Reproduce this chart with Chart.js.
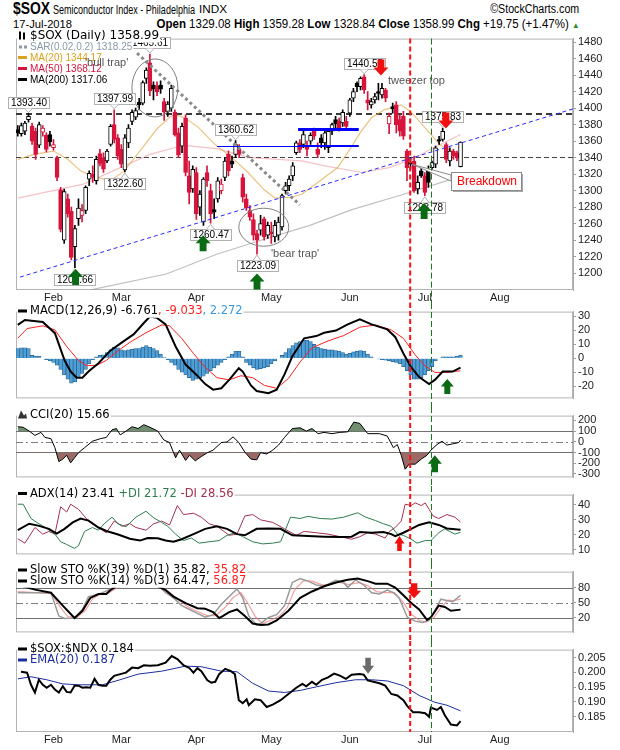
<!DOCTYPE html>
<html>
<head>
<meta charset="utf-8">
<script src="https://cdn.jsdelivr.net/npm/chart.js@4.4.1/dist/chart.umd.min.js"></script>
<style>
  body { margin: 0; width: 620px; height: 750px; background: #fff; position: relative; overflow: hidden; }
  canvas { position: absolute; left: 0; }
  .t { position: absolute; white-space: nowrap; font-family: "Liberation Sans", Arial, sans-serif; color: #000; line-height: 1; }
</style>
</head>
<body>
<div class="t" id="h1" style="left:13px;top:1px;font-size:16px;font-weight:bold;transform-origin:left center;">$SOX</div>
<div class="t" id="h2" style="left:53px;top:4px;font-size:12px;transform-origin:left center;">Semiconductor Index - Philadelphia</div>
<div class="t" id="h3" style="left:199px;top:5px;font-size:10px;transform-origin:left center;">INDX</div>
<div class="t" id="h4" style="right:41px;top:3px;font-size:12px;transform-origin:right center;">©StockCharts.com</div>
<div class="t" id="h5" style="left:13px;top:19px;font-size:11px;transform-origin:left center;">17-Jul-2018</div>
<div class="t" id="h6" style="right:40px;top:18px;font-size:12px;transform-origin:right center;"><b>Open</b> 1329.08 <b>High</b> 1359.28 <b>Low</b> 1328.84 <b>Close</b> 1358.99 <b>Chg</b> +19.75 (+1.47%) <span style="color:#2a8a2a;font-size:8px">▲</span></div>
<script>
// header pieces squeezed to the widths they take in the reference
[['h1', 37], ['h2', 142], ['h3', 28], ['h4', 89], ['h5', 59], ['h6', 423]].forEach(([id, w]) => {
  const el = document.getElementById(id);
  el.style.transform = 'scaleX(' + (w / el.getBoundingClientRect().width) + ')';
});

// x axis: trading-day index, 0 = 18-Jan-2018, 124 = 17-Jul-2018
const monthTickIdx = [10, 29, 50, 71, 93, 114, 135];
const monthLabels = ['Feb', 'Mar', 'Apr', 'May', 'Jun', 'Jul', 'Aug'];

const opens = [1374,1369,1372,1386,1378,1372,1355,1371,1367,1368,1352,1340,1301,1240,1290,1275,1232,1266,1270,1276,
  1314,1320,1312,1345,1340,1336,1356,1380,1364,1350,1325,1358,1384,1389,1407,1406,1436,1455,1428,1427,
  1428,1408,1396,1400,1395,1370,1354,1388,1318,1302,1322,1280,1262,1322,1300,1277,1290,1300,1316,1344,
  1336,1344,1350,1316,1290,1276,1265,1248,1252,1266,1246,1250,1244,1246,1256,1300,1306,1318,1346,1358,
  1356,1354,1360,1372,1350,1364,1358,1352,1372,1386,1384,1382,1384,1394,1412,1430,1426,1438,1410,1404,
  1410,1420,1416,1422,1381,1402,1404,1386,1390,1348,1334,1336,1302,1324,1318,1326,1328,1332,1362,1362,
  1356,1336,1348,1346,1329.08];
const highs = [1379,1382,1384,1393.4,1382,1376,1383,1379,1370,1372,1362,1342,1304,1302,1296,1280,1258,1290,1283,1306,
  1324,1330,1342,1350,1346,1350,1380,1397.99,1368,1356,1368,1380,1398,1400,1412,1433,1449,1465.61,1432,1432,
  1433,1412,1408,1428,1398,1376,1382,1392,1336,1330,1328,1300,1316,1330,1308,1290,1316,1314,1340,1348,
  1342,1360.62,1356,1320,1296,1282,1272,1252,1270,1268,1262,1262,1264,1268,1296,1310,1318,1334,1360,1362,
  1372,1360,1370,1376,1358,1368,1374,1374,1382,1390,1388,1398,1390,1412,1424,1432,1438,1440.55,1420,1412,
  1418,1430,1430,1424,1394,1406,1408,1392,1396,1350,1340,1342,1318,1328,1322,1330,1336,1354,1366,1375.83,
  1358,1352,1350,1348,1359.28];
const lows = [1366,1366,1368,1383,1356,1338,1352,1366,1347,1354,1349,1312,1250,1236,1268,1216,1206.66,1258,1262,1272,
  1306,1310,1308,1330,1322,1334,1354,1358,1338,1328,1322.6,1352,1380,1386,1398,1404,1430,1415,1410,1415,
  1418,1385,1390,1396,1366,1340,1346,1318,1284,1298,1265,1270,1258,1305,1260.47,1266,1286,1296,1312,1318,
  1328,1340,1340,1286,1276,1264,1240,1223.09,1246,1240,1242,1236,1238,1240,1252,1296,1300,1312,1344,1346,
  1352,1342,1356,1362,1340,1352,1350,1346,1368,1376,1372,1378,1374,1390,1408,1420,1422,1418,1398,1400,
  1406,1410,1412,1408,1369,1394,1370,1366,1362,1312,1326,1298,1296,1316,1293.78,1304,1324,1328,1356,1360,
  1334,1330,1338,1336,1328.84];
const closes = [1370,1379,1382,1390,1360,1344,1380,1376,1350,1359,1356,1316,1253,1299,1272,1219,1254,1279,1276,1304,
  1321,1316,1338,1333,1326,1348,1378,1362,1342,1332,1364,1376,1395,1397,1404,1431,1446,1421,1423,1420,
  1423,1395,1405,1424,1368,1343,1378,1322,1298,1326,1272,1296,1314,1312,1272,1274,1312,1308,1336,1324,
  1332,1356,1344,1292,1279,1268,1246,1240,1260,1244,1258,1248,1258,1262,1294,1306,1314,1330,1358,1350,
  1368,1350,1367,1366,1344,1358,1370,1372,1380,1381,1376,1395,1378,1410,1420,1426,1436,1422,1406,1408,
  1414,1418,1424,1412,1390,1399,1380,1372,1366,1328,1332,1300,1310,1318,1298,1310,1334,1352,1360,1372,
  1338,1348,1342,1339.24,1358.99];

// moving averages on the price panel, [day index, value] vertices
const ma20Pts = [[0,1338],[4.5,1344],[10,1348],[14,1338],[17.6,1324],[20.4,1318],[24,1314],[27,1315],[29.8,1324],[34.4,1349],
  [39,1375],[42.8,1390],[44,1392],[46.8,1388],[50.5,1377],[55,1357],[60,1340],[64.5,1322],[69,1301],[72,1291],[76.7,1292],
  [79.6,1296],[84,1310],[89.6,1328],[93,1350],[96,1371],[99,1388],[102.6,1398],[107.3,1404],[110,1396],[114.7,1373],
  [118.4,1355],[121,1349],[124,1344.17]];
const ma50Pts = [[0,1291],[18.4,1308],[37,1344],[46.4,1355],[55.7,1351],[65,1340],[79.6,1336],[86,1330],[96.4,1322],
  [104,1328],[110.4,1338],[116.9,1353],[124,1368.12]];
const ma200Pts = [[18,1176],[21.7,1181],[41.6,1199],[55.7,1223],[69.7,1242],[81.8,1258],[93.6,1277],[107.6,1295],
  [121.6,1314],[124,1317.06]];

// MACD(12,26,9)
const macdPts = [[0,24],[2,27.5],[7,26],[10.4,18],[13.1,-1.6],[14.8,-9.6],[16.5,-14],[18.1,-14],[19.8,-9.6],[22.6,-3.6],
  [25.9,5.4],[29.2,11.4],[32.5,17.3],[35.3,25.3],[37,30],[39,29],[41.4,24.3],[44.2,8.4],[47,-4.6],[50.3,-12.6],[52.5,-18.6],
  [54.7,-22.6],[57,-21.6],[59.2,-15.6],[61.9,-7.2],[63,-9.6],[65.3,-19.6],[66.9,-23.6],[70.2,-25.2],[72.5,-22.6],[74.7,-11.6],
  [76.9,1.4],[80.2,14.3],[83.6,15.9],[85.8,18.3],[89.1,19.9],[92.4,24.3],[95.8,27.9],[99.1,24.3],[103.5,20.7],[105.7,15.3],
  [108,3.4],[110.2,-6.6],[112.4,-13.6],[115.2,-18.6],[116.8,-15.6],[119,-9.6],[121.8,-9.6],[124,-6.761]];
const signalPts = [[0,14.4],[2.6,21.3],[7,23.3],[10.4,20.3],[13.7,8.4],[17,-1.6],[19.2,-5.2],[22,-5.2],[24.8,-1.6],[28.1,5.4],
  [31.4,11.4],[35.9,18.3],[40.3,23.9],[42.5,23.3],[45.9,14.3],[49.2,3.4],[52.5,-6.6],[55.8,-14],[59.2,-15.6],[62.5,-12.6],
  [65.8,-14],[69.1,-19.6],[72.5,-21.6],[75.8,-14.6],[79.1,-2.6],[82.4,7.4],[86.9,12.4],[91.3,16.3],[95.8,22.3],[100.2,23.9],
  [104.6,20.3],[108,14.3],[111.3,2.4],[114.1,-5.6],[116.8,-10.2],[120.2,-10.2],[124,-9.033]];
const histVals = [7,7.5,7.5,7,2,1.5,1.5,0,-1,-2,-3,-5,-8,-12,-15,-18,-17,-14,-11,-8,
  -4,-1,1,2,2.5,4,6,8,7.5,6,5.5,6,6.5,7,7,8,9,8,7,5.5,
  3,0.5,-1,-3,-5,-8,-10,-12,-14,-16,-15,-14,-13,-11,-9,-7,-5,-3,-1,1,
  3,5,5,1,-3,-5,-7,-8,-7.5,-7,-6,-4,-2,0,2,4,7,9,11,12,
  13,13,12,10,8,7,6.5,6,6,5.5,5,4,3,3.5,4.5,5,5.5,5,3,1,
  0,-0.5,-1,-1.5,-2,-2.5,-3,-4,-6,-9,-12,-15,-15,-14,-12,-9,-6,-2,0,1,
  1,1,1,1.5,2.272];

// CCI(20)
const cciPts = [[0,141],[1.5,136],[3.2,100],[4.8,60],[6.5,88],[7.6,41],[9.3,29],[10.4,-55],[11.5,-185],[12.6,-162],
  [13.7,-126],[14.8,-197],[15.9,-150],[17,-102],[18.7,-55],[20.9,5],[23.1,29],[24.8,41],[26.4,112],[27.6,124],[28.7,65],
  [30.3,100],[32,141],[33.7,124],[35.3,160],[37,136],[39.2,100],[40.9,17],[42.5,-7],[44.2,-150],[45.3,-78],[47,-174],
  [48.1,-126],[49.7,-178],[51.4,-138],[53.1,-102],[54.7,-78],[57,-7],[58.6,-2],[60.3,46],[61.9,-7],[63.6,-97],[65.3,-162],
  [66.9,-169],[68,-102],[69.7,-114],[71.4,-78],[73,-31],[74.7,41],[76.9,124],[79.1,131],[80.8,100],[82.4,124],[84.1,76],
  [85.8,88],[88,76],[90.2,88],[92.4,93],[94.1,184],[95.8,172],[98,76],[101.3,76],[103.5,53],[105.2,-55],[106.3,-26],
  [107.4,-126],[108.5,-257],[109.6,-209],[111.3,-209],[113,-162],[114.6,-126],[115.7,-78],[117.4,-26],[118.8,5],
  [120.2,-31],[121.8,-19],[123.5,-7],[124,15.66]];

// ADX(14), +DI, -DI
const adxPts = [[0,23.1],[3.2,27.4],[6,26],[8.7,24],[10.9,20.9],[13.1,24],[15.4,28.3],[17.6,30.9],[19.8,29.5],[22.6,24.9],
  [24.8,22.6],[28.1,20.2],[31.4,17.4],[34.2,16.2],[36.4,17.9],[39.2,17.8],[41.4,16.2],[43.6,15.4],[45.9,17.1],[49.2,20.5],
  [52.5,24],[55.8,25.7],[58.6,24],[61.4,20.5],[63.6,19.7],[66.9,24],[70.2,24.3],[73.6,24],[76.9,19.7],[81.3,19.2],
  [85.8,18.8],[90.2,18.5],[93.5,18.8],[95.8,21.9],[99.1,21.4],[102.4,21.9],[104.6,20.5],[105.7,19.2],[108,21.4],
  [110.2,24],[112.4,26.6],[115.2,28.3],[117.9,26.6],[120.2,24.3],[124,23.41]];
const plusDiPts = [[0,40.4],[1.5,40.4],[3.7,30.9],[5.9,27.4],[8.1,24.3],[10.4,20.5],[12,15.4],[13.7,13.6],[15.9,11],[17,12.8],
  [18.7,22.3],[20.9,24.9],[22.6,23.1],[24.2,27.4],[26.4,31.8],[28.1,27.4],[30.3,25.4],[33.1,31.8],[35.9,35.7],[38.1,31.3],
  [40.3,28.3],[42,25.7],[44.2,20.5],[46.4,16.2],[48.6,17.9],[50.8,14.5],[53.6,15.4],[56.4,16.2],[58.6,19.7],[60.8,21.4],
  [63,18.8],[65.8,15.4],[68.6,14],[71.4,14.5],[73.6,15.4],[76.4,31.8],[79.1,30.9],[81.3,32.3],[84.7,30.9],[88,30.5],
  [91.3,31.8],[95.2,34.7],[97.4,31.8],[100.2,29.5],[102.4,27.4],[104.6,25.7],[106.3,20.5],[108,19.7],[110.2,17.1],
  [111.8,14.5],[114.1,16.2],[115.7,16.2],[117.9,21.4],[119.6,24],[122.4,20.5],[124,21.72]];
const minusDiPts = [[0,17.4],[2,14.5],[4.8,24.9],[7,20.5],[8.7,22.3],[10.4,20.5],[12,38.7],[13.7,35.2],[14.8,40.4],[17,37],
  [19.2,30.9],[22.6,24.9],[24.8,21.4],[27,29.2],[29.2,25.7],[31.4,27.4],[33.1,24.9],[35.9,23.1],[38.1,27.4],[40.3,29.2],
  [42.5,26.6],[44.7,39.5],[46.4,33.5],[49.2,34.4],[51.4,31.8],[53.6,27.4],[55.8,25.7],[59.2,19.7],[61.4,20.5],[63.6,32.6],
  [65.8,33.5],[68,30],[71.4,28.3],[74.7,24],[78,19.7],[80.2,22.3],[83.6,21.4],[86.9,20.5],[90.2,18.8],[93.5,17.1],
  [95.8,18.8],[98,21.4],[100.2,20.5],[102.9,17.9],[104.1,22.3],[105.7,24.9],[107.4,29.2],[108.5,40.4],[110.2,39.5],
  [111.3,41.3],[113,39.5],[114.1,41.3],[115.2,37],[116.3,32.6],[117.9,30.9],[120.2,33.5],[122.4,31.8],[124,28.56]];

// Slow stochastics
const stoK39Pts = [[0,85],[4.8,75.9],[9.3,69.7],[12.6,43.8],[15.9,19],[18.1,33.5],[20.3,59.3],[22.6,67.1],[24.8,67.1],
  [25.9,74.8],[28.1,85],[33.7,87.8],[39.2,82.6],[41.4,74.8],[43.6,61.9],[47,49],[50.3,38.6],[52.5,37.6],[54.7,30.9],
  [56.4,19],[57.5,23.2],[59.2,30.9],[61.4,36.1],[63.6,23.2],[65.8,8],[68,5],[70.2,6],[72.5,14],[75.8,33.5],[79.1,59.3],
  [82.4,72.2],[85.8,82.6],[89.1,90.3],[92.4,95.5],[95.2,98.1],[98,92.9],[100.2,87.8],[103.5,87.8],[105.7,80],[108,64.5],
  [110.2,49],[112.4,36.1],[114.6,15.4],[115.7,20.6],[117.9,43.8],[119.6,41.2],[121.3,33.5],[124,35.82]];
const stoK14Pts = [[0,69.7],[4.3,69.7],[9.3,69.7],[11.5,23.2],[13.1,18],[15.9,19],[18.1,36.1],[19.8,62],[21.5,64.5],
  [23.7,69.7],[25.3,74.8],[28,85],[33,90],[39.2,85],[41.4,69.7],[43.6,59.3],[45.9,43.8],[48.1,36.1],[50.3,28.3],[52.5,20.6],
  [54.7,25.7],[57,46.4],[59.2,62],[61.4,77.4],[63,59.3],[64.7,23.2],[66.9,5],[68,8],[70.2,20],[72.5,25.7],[74.7,43.8],
  [76.9,90.3],[79.1,98.1],[81.3,92.9],[83.6,85.2],[85.8,82.6],[89.1,94.5],[91.3,90.3],[92.4,80],[94.6,95.5],[96.9,85.2],
  [99.1,69.7],[101.3,67.1],[103.5,74.8],[105.2,69.7],[106.8,59.3],[109.1,20.6],[111.3,12.8],[113.5,10.2],[115.2,15.4],
  [116.8,33.5],[118.5,56.7],[120.2,54.2],[121.8,51.6],[124,64.47]];
const stoD3Pts = [[0,72],[5,70],[9.5,68],[12,40],[14,22],[16.5,20],[19,35],[21,58],[23,66],[25.5,70],[28,80],[33,88],
  [40,84],[42.5,70],[45,56],[47.5,42],[50,33],[53,24],[55.5,24],[58,40],[60.3,60],[62.5,70],[64.5,48],[66.5,22],[68.5,8],
  [71,15],[73.5,24],[75.5,40],[77.5,75],[80,94],[82.5,93],[85,86],[87,85],[90,91],[92.5,86],[95.5,90],[98,84],[100.5,72],
  [103,70],[105.5,70],[108,50],[110,28],[112.5,14],[114.5,11],[116.5,20],[118.5,40],[120.5,55],[122,54],[124,56.87]];

// $SOX:$NDX ratio and its EMA(20)
const ratioPts = [[0.9,.2002],[2.6,.1999],[3.7,.1958],[4.8,.1932],[5.9,.1975],[7,.1958],[8.1,.1948],[9.3,.1958],[10.4,.1942],
  [11.5,.1932],[12.6,.1953],[13.7,.1934],[14.8,.1932],[15.9,.1955],[17,.1955],[18.1,.1948],[19.2,.1950],[20.3,.1948],
  [21.5,.1978],[22.6,.1958],[23.7,.1955],[24.8,.1955],[25.9,.1975],[27,.1988],[28.7,.1994],[30.3,.1999],[32,.2016],
  [33.7,.2014],[35.3,.2024],[37,.2022],[39.2,.2024],[41.4,.2033],[43.1,.2055],[44.7,.2045],[46.4,.2024],[48.1,.2014],
  [49.2,.1999],[50.3,.2014],[51.4,.2004],[53.1,.1973],[54.2,.1965],[55.3,.1968],[56.4,.1994],[58.1,.2012],[59.7,.2004],
  [60.8,.1994],[61.9,.1906],[63,.1896],[64.1,.1909],[64.7,.1889],[66.4,.1909],[68,.1906],[69.7,.1883],[71.4,.1891],
  [73.6,.1906],[75.8,.1927],[78,.1948],[79.7,.1961],[80.8,.1953],[82.4,.1968],[83.6,.1958],[85.2,.1975],[86.9,.1983],
  [88.6,.1996],[90.2,.1989],[91.9,.1978],[93.5,.1992],[95.8,.1994],[96.9,.1992],[98,.1973],[99.6,.1968],[101.3,.1963],
  [102.9,.1955],[104.6,.1927],[106.3,.1922],[108,.1906],[109.1,.1886],[110.7,.1865],[112.4,.1865],[114.1,.1862],
  [115.2,.1850],[115.7,.1881],[117.4,.1873],[118.5,.1883],[119.6,.1855],[121.3,.1824],[123,.1821],[124,.1835]];
const emaPts = [[0,.1978],[3.7,.1985],[8.1,.1975],[12.6,.1961],[17,.1958],[23.7,.1958],[28.1,.1973],[33.7,.1994],[40.3,.2004],
  [47,.2021],[51.4,.2019],[57,.2004],[61.4,.2002],[65.8,.1963],[70.2,.1937],[74.7,.1932],[79.1,.1939],[83.6,.1951],
  [89.1,.1965],[94.6,.1975],[99.1,.1975],[103.5,.1971],[108,.1955],[112.4,.1922],[116.8,.1899],[120.2,.1889],[124,.187]];

const priceTicks = [1200,1220,1240,1260,1280,1300,1320,1340,1360,1380,1400,1420,1440,1460,1480];
const macdTicks = [-20,-10,0,10,20,30];
const cciTicks = [-300,-200,-100,0,100,200];
const adxTicks = [10,20,30,40];
const stoTicks = [20,50,80];
const ratioTicks = [0.185,0.19,0.195,0.2,0.205];

// annotations
const markerIdx = [109.9, 115.8];
const priceTags = [[3,'h'],[27,'h'],[30,'l'],[37,'h'],[61,'h'],[54,'l'],[67,'l'],[16,'l'],[97,'h'],[119,'h'],[114,'l']];
const priceArrows = [[16.2,1205,'up','g'],[51.9,1246,'up','g'],[67,1199.5,'up','g'],[113.8,1285,'up','g'],
  [101.7,1439.7,'down','r'],[119.9,1375.3,'down','r']];

const RED = '#d6143c';
const FONT = 'Liberation Sans';
const LFONT = 'DejaVu Sans';
const LSIZE = 11.5;
const pts = a => a.map(p => ({ x: p[0], y: p[1] }));
const days = closes.map((c, i) => i);
const edgeCol = i => (i === 0 || closes[i] >= closes[i - 1]) ? '#000' : RED;

function line(data, color, width, order) {
  return { type: 'line', data: pts(data), borderColor: color, borderWidth: width, pointRadius: 0, tension: 0, order: order || 0 };
}

function frame(c) {
  const a = c.chartArea, ctx = c.ctx;
  ctx.save();
  ctx.strokeStyle = '#b4b4b4'; ctx.lineWidth = 1;
  ctx.strokeRect(a.left + 0.5, a.top + 0.5, a.width - 1, a.height - 1);
  ctx.restore();
}

function markers(c, y0, y1) {
  const ctx = c.ctx;
  ctx.save();
  let x = c.scales.x.getPixelForValue(markerIdx[0]);
  ctx.strokeStyle = '#ff1010'; ctx.lineWidth = 2; ctx.setLineDash([5, 3]);
  ctx.beginPath(); ctx.moveTo(x, y0); ctx.lineTo(x, y1); ctx.stroke();
  x = Math.round(c.scales.x.getPixelForValue(markerIdx[1])) + 0.5;
  ctx.strokeStyle = '#1c7a1c'; ctx.lineWidth = 1; ctx.setLineDash([6, 3]);
  ctx.beginPath(); ctx.moveTo(x, y0); ctx.lineTo(x, y1); ctx.stroke();
  ctx.restore();
}

function hline(c, v, color, width, dash, i0, i1) {
  const ctx = c.ctx, a = c.chartArea;
  const y = Math.round(c.scales.y.getPixelForValue(v)) + (width % 2 ? 0.5 : 0);
  const x0 = i0 === undefined ? a.left : c.scales.x.getPixelForValue(i0);
  const x1 = i1 === undefined ? a.right : c.scales.x.getPixelForValue(i1);
  ctx.save();
  ctx.strokeStyle = color; ctx.lineWidth = width; ctx.setLineDash(dash || []);
  ctx.beginPath(); ctx.moveTo(x0, y); ctx.lineTo(x1, y); ctx.stroke();
  ctx.restore();
}

function trend(c, i0, v0, i1, v1, color, width, dash) {
  const ctx = c.ctx, a = c.chartArea;
  ctx.save();
  ctx.beginPath(); ctx.rect(a.left, a.top, a.width, a.height); ctx.clip();
  ctx.strokeStyle = color; ctx.lineWidth = width; ctx.setLineDash(dash || []);
  ctx.beginPath();
  ctx.moveTo(c.scales.x.getPixelForValue(i0), c.scales.y.getPixelForValue(v0));
  ctx.lineTo(c.scales.x.getPixelForValue(i1), c.scales.y.getPixelForValue(v1));
  ctx.stroke();
  ctx.restore();
}

function arrow(c, i, v, dir, col, w, h) {
  const ctx = c.ctx;
  const x = c.scales.x.getPixelForValue(i), y = c.scales.y.getPixelForValue(v);
  const s = dir === 'up' ? 1 : -1, hh = h * 0.5, sw = w * 0.46;
  ctx.save();
  ctx.fillStyle = { g: '#0b6b14', r: '#f01010', k: '#6a6a6a' }[col];
  ctx.beginPath();
  ctx.moveTo(x, y);
  ctx.lineTo(x + w / 2, y + s * hh);
  ctx.lineTo(x + sw / 2, y + s * hh);
  ctx.lineTo(x + sw / 2, y + s * h);
  ctx.lineTo(x - sw / 2, y + s * h);
  ctx.lineTo(x - sw / 2, y + s * hh);
  ctx.lineTo(x - w / 2, y + s * hh);
  ctx.closePath(); ctx.fill();
  ctx.restore();
}

function tag(c, i, kind) {
  const ctx = c.ctx;
  const v = kind === 'h' ? highs[i] : lows[i];
  const text = v.toFixed(2);
  const x = c.scales.x.getPixelForValue(i), y = c.scales.y.getPixelForValue(v);
  ctx.save();
  ctx.font = '10px ' + FONT;
  const w = Math.round(ctx.measureText(text).width) + 5, h = 11;
  const top = kind === 'h' ? Math.round(y - 6 - h) : Math.round(y + 6);
  const left = Math.round(x - w / 2);
  ctx.fillStyle = '#fff'; ctx.strokeStyle = '#b0b0b0'; ctx.lineWidth = 1;
  ctx.fillRect(left, top, w, h);
  ctx.strokeRect(left + 0.5, top + 0.5, w, h);
  ctx.beginPath();
  if (kind === 'h') { ctx.moveTo(x - 4, top + h + 0.5); ctx.lineTo(x, y - 1); ctx.lineTo(x + 4, top + h + 0.5); }
  else { ctx.moveTo(x - 4, top + 0.5); ctx.lineTo(x, y + 1); ctx.lineTo(x + 4, top + 0.5); }
  ctx.fill(); ctx.stroke();
  ctx.fillStyle = '#000'; ctx.textAlign = 'center'; ctx.textBaseline = 'middle';
  ctx.fillText(text, left + w / 2 + 0.5, top + h / 2 + 1);
  ctx.restore();
}

function note(c, i, v, text, color, size) {
  const ctx = c.ctx;
  ctx.save();
  ctx.font = size + 'px ' + FONT; ctx.fillStyle = color;
  ctx.textAlign = 'left'; ctx.textBaseline = 'middle';
  ctx.fillText(text, c.scales.x.getPixelForValue(i), c.scales.y.getPixelForValue(v));
  ctx.restore();
}

function ellipse(c, i, v, rx, ry) {
  const ctx = c.ctx;
  ctx.save();
  ctx.strokeStyle = '#808080'; ctx.lineWidth = 1;
  ctx.beginPath();
  ctx.ellipse(c.scales.x.getPixelForValue(i), c.scales.y.getPixelForValue(v), rx, ry, 0, 0, Math.PI * 2);
  ctx.stroke();
  ctx.restore();
}

const barIcon = col => (ctx, x, y) => { ctx.fillStyle = col; ctx.fillRect(x, y - 1.5, 9, 3); };
function legendRow(ctx, x, y, icon, parts, size, family) {
  ctx.save();
  ctx.font = size + 'px ' + (family || LFONT);
  let w = 12;
  parts.forEach(p => { w += ctx.measureText(p[0]).width; });
  ctx.fillStyle = '#fff';
  ctx.fillRect(x - 1, y - size / 2 - 1, w + 2, size + 2);
  icon(ctx, x, y);
  ctx.textAlign = 'left'; ctx.textBaseline = 'middle';
  let cx = x + 12;
  parts.forEach(p => { ctx.fillStyle = p[1]; ctx.fillText(p[0], cx, y + 0.5); cx += ctx.measureText(p[0]).width; });
  ctx.restore();
}

function makePanel(o) {
  const cv = document.createElement('canvas');
  cv.width = 620; cv.height = o.h;
  cv.style.top = o.top + 'px';
  document.body.appendChild(cv);
  return new Chart(cv, {
    type: 'bar',
    data: { datasets: o.datasets },
    options: {
      responsive: false, animation: false, events: [],
      layout: { padding: { left: 16, right: 0, top: 0, bottom: 0 }, autoPadding: false },
      plugins: { legend: { display: false }, tooltip: { enabled: false } },
      scales: {
        x: {
          type: 'linear', min: -0.5, max: 155.5, offset: false, display: o.xh > 0,
          grid: { display: false, drawTicks: false }, border: { display: false },
          afterBuildTicks: s => { s.ticks = monthTickIdx.map(v => ({ value: v })); },
          afterFit: s => { s.height = o.xh; },
          ticks: { autoSkip: false, maxRotation: 0, padding: 1, color: '#222',
            font: { family: FONT, size: 11 }, callback: v => monthLabels[monthTickIdx.indexOf(v)] }
        },
        y: {
          position: 'right', min: o.min, max: o.max,
          afterBuildTicks: s => { s.ticks = o.ticks.map(v => ({ value: v })); },
          afterFit: s => { s.width = 47; },
          grid: { drawOnChartArea: false, tickLength: 3, color: '#999' },
          border: { color: '#aaa' },
          ticks: { autoSkip: false, padding: 2, color: '#222', font: { family: FONT, size: 11 }, callback: o.fmt || (v => v) }
        }
      }
    },
    plugins: [{
      id: 'deco',
      beforeDatasetsDraw: c => { frame(c); if (o.under) o.under(c); },
      afterDraw: c => {
        if (o.over) o.over(c);
        const a = c.chartArea;
        markers(c, o.xh && o.top < 100 ? a.top : 0, o.xh && o.top > 100 ? a.bottom : o.h);
      }
    }]
  });
}

// ---------- price panel ----------
makePanel({
  top: 30, h: 273, xh: 13, min: 1179.6, max: 1484.3, ticks: priceTicks,
  datasets: [
    line(ma200Pts, 'rgba(150,150,150,0.6)', 1.2, 6),
    line(ma50Pts, 'rgba(230,120,130,0.45)', 1.2, 5),
    line(ma20Pts, 'rgba(225,170,80,0.7)', 1.2, 4),
    { data: days.map(i => ({ x: i, y: [lows[i], highs[i]] })), backgroundColor: days.map(edgeCol),
      barThickness: 1, grouped: false, order: 3 },
    { data: days.map(i => ({ x: i, y: [opens[i], closes[i]] })),
      backgroundColor: days.map(i => closes[i] > opens[i] ? '#fff' : edgeCol(i)),
      borderColor: days.map(edgeCol), borderWidth: 1, borderSkipped: false,
      barThickness: 4, grouped: false, order: 2 }
  ],
  under: c => {
    hline(c, 1393.4, '#3a3a3a', 2, [6, 4]);
    hline(c, 1341, '#444', 1, [5, 3]);
  },
  over: c => {
    const ctx = c.ctx;
    hline(c, 1354.3, '#0000ff', 1, [], 55.8, 95.3);
    hline(c, 1354.3, '#0000ff', 2, [], 78.5, 95.5);
    hline(c, 1374.6, '#0000ff', 3, [], 78.5, 95.5);
    trend(c, 0.6, 1195.2, 155.5, 1399.1, '#2b2bff', 1, [4, 3]);
    trend(c, 33.4, 1466.7, 79, 1282.7, '#8a8a8a', 3, [3, 3]);
    ellipse(c, 38.4, 1424.5, 23, 29);
    ellipse(c, 68.9, 1255.7, 25, 19);
    priceTags.forEach(t => tag(c, t[0], t[1]));
    priceArrows.forEach(a => arrow(c, a[0], a[1], a[2], a[3], 15, 16));

    // Breakdown callout
    const ax = c.scales.x.getPixelForValue(110.4), ay = c.scales.y.getPixelForValue(1332);
    const bx = Math.round(ax + 39), by = Math.round(ay + 8);
    ctx.save();
    ctx.fillStyle = '#fff'; ctx.strokeStyle = '#8a8a8a'; ctx.lineWidth = 1;
    ctx.beginPath(); ctx.moveTo(ax, ay); ctx.lineTo(bx, by + 3); ctx.lineTo(bx, by + 9); ctx.closePath();
    ctx.fill(); ctx.stroke();
    ctx.fillStyle = '#a8a8a8'; ctx.fillRect(bx + 2, by + 2, 70, 18);
    ctx.fillStyle = '#fff'; ctx.fillRect(bx, by, 70, 18);
    ctx.strokeRect(bx + 0.5, by + 0.5, 70, 18);
    ctx.font = '12px ' + FONT; ctx.fillStyle = '#ff0000'; ctx.textBaseline = 'middle';
    ctx.fillText('Breakdown', bx + 6, by + 9.5);
    ctx.restore();

    // legend
    legendRow(ctx, 18, 5.5, (g, x, y) => {
      g.fillStyle = '#000'; g.fillRect(x + 1, y - 4, 2, 8); g.fillRect(x + 5, y - 3, 2, 7);
    }, [['$SOX (Daily) 1358.99', '#000']], 12, LFONT);
    legendRow(ctx, 18, 17, (g, x, y) => {
      g.fillStyle = '#8a9aa8'; g.fillRect(x + 1, y - 1.5, 3, 3); g.fillRect(x + 6, y - 1.5, 3, 3);
    }, [['SAR(0.02,0.2) 1318.25', '#8a9aa8']], 10, FONT);
    legendRow(ctx, 18, 27.5, barIcon('#d9a21f'), [['MA(20) 1344.17', '#d9a21f']], 10, FONT);
    legendRow(ctx, 18, 38.5, barIcon(RED), [['MA(50) 1368.12', RED]], 10, FONT);
    legendRow(ctx, 18, 49.5, barIcon('#000'), [['MA(200) 1317.06', '#000']], 10, FONT);

    note(c, 18.8, 1455, "'bull trap'", '#555', 11);
    note(c, 70.9, 1223, "'bear trap'", '#555', 11);
    note(c, 103.7, 1432.7, 'tweezer top', '#555', 11);
  }
});

// ---------- MACD ----------
makePanel({
  top: 303, h: 104, xh: 0, min: -28.9, max: 33.5, ticks: macdTicks,
  datasets: [
    { data: days.map(i => ({ x: i, y: histVals[i] })), backgroundColor: '#4f9fd6', borderColor: '#245f8c',
      borderWidth: 0.7, barPercentage: 1, categoryPercentage: 1, order: 3 },
    line(signalPts, '#ff2020', 1, 2),
    line(macdPts, '#000', 2, 1)
  ],
  over: c => {
    arrow(c, 120.3, -15, 'up', 'g', 13, 15);
    legendRow(c.ctx, 18, 8, barIcon('#000'),
      [['MACD(12,26,9) -6.761', '#000'], [', -9.033', '#ff2020'], [', 2.272', '#3a9ad9']], LSIZE);
  }
});

// ---------- CCI ----------
makePanel({
  top: 407, h: 79, xh: 0, min: -333, max: 245, ticks: cciTicks,
  datasets: [
    { type: 'line', data: pts(cciPts), borderColor: 'rgba(0,0,0,0)', borderWidth: 0, pointRadius: 0,
      fill: { target: { value: 100 }, above: '#6f8f6f', below: 'rgba(0,0,0,0)' }, order: 3 },
    { type: 'line', data: pts(cciPts), borderColor: 'rgba(0,0,0,0)', borderWidth: 0, pointRadius: 0,
      fill: { target: { value: -100 }, above: 'rgba(0,0,0,0)', below: '#9a6a66' }, order: 2 },
    line(cciPts, '#000', 1, 1)
  ],
  under: c => {
    hline(c, 100, '#707070', 1);
    hline(c, -100, '#707070', 1);
    hline(c, 0, '#808080', 1, [7, 3, 2, 3]);
  },
  over: c => {
    arrow(c, 116.8, -127, 'up', 'g', 14, 17);
    legendRow(c.ctx, 18, 7.5, (g, x, y) => {
      g.fillStyle = '#333'; g.beginPath(); g.moveTo(x, y + 4); g.lineTo(x + 3, y - 4); g.lineTo(x + 6, y + 1);
      g.lineTo(x + 8, y - 1); g.lineTo(x + 9, y + 4); g.closePath(); g.fill();
    }, [['CCI(20) 15.66', '#000']], LSIZE);
  }
});

// ---------- ADX ----------
makePanel({
  top: 486, h: 77, xh: 0, min: 7, max: 46.8, ticks: adxTicks,
  datasets: [
    line(minusDiPts, '#a3304f', 1, 3),
    line(plusDiPts, '#2e7d4f', 1, 2),
    line(adxPts, '#000', 2, 1)
  ],
  over: c => {
    arrow(c, 106.9, 19.3, 'up', 'r', 10, 15);
    legendRow(c.ctx, 18, 7.5, barIcon('#000'),
      [['ADX(14) 23.41 ', '#000'], ['+DI 21.72 ', '#2e7d4f'], ['-DI 28.56', '#a3304f']], LSIZE);
  }
});

// ---------- Slow STO ----------
makePanel({
  top: 563, h: 78, xh: 0, min: -9.8, max: 112, ticks: stoTicks,
  datasets: [
    line(stoD3Pts, 'rgba(240,120,120,0.7)', 1.2, 3),
    line(stoK14Pts, '#9a9a9a', 1.5, 2),
    line(stoK39Pts, '#000', 2, 1)
  ],
  under: c => {
    hline(c, 80, '#707070', 1);
    hline(c, 20, '#707070', 1);
    hline(c, 50, '#808080', 1, [7, 3, 2, 3]);
  },
  over: c => {
    arrow(c, 111, 58.8, 'down', 'r', 14, 15);
    legendRow(c.ctx, 18, 7, barIcon('#000'), [['Slow STO %K(39) %D(1) 35.82, ', '#000'], ['35.82', '#ff2020']], LSIZE);
    legendRow(c.ctx, 18, 18, barIcon('#000'), [['Slow STO %K(14) %D(3) 64.47, ', '#000'], ['56.87', '#ff2020']], LSIZE);
  }
});

// ---------- $SOX:$NDX ----------
makePanel({
  top: 641, h: 109, xh: 18, min: 0.17986, max: 0.20768, ticks: ratioTicks, fmt: v => v.toFixed(3),
  datasets: [
    line(emaPts, '#1b2da0', 1, 2),
    line(ratioPts, '#000', 2, 1)
  ],
  over: c => {
    arrow(c, 98.1, 0.1995, 'down', 'k', 12, 16);
    legendRow(c.ctx, 18, 8, barIcon('#000'), [['$SOX:$NDX 0.184', '#000']], LSIZE);
    legendRow(c.ctx, 18, 19, barIcon('#1b2da0'), [['EMA(20) 0.187', '#1b2da0']], LSIZE);
  }
});
</script>
</body>
</html>
